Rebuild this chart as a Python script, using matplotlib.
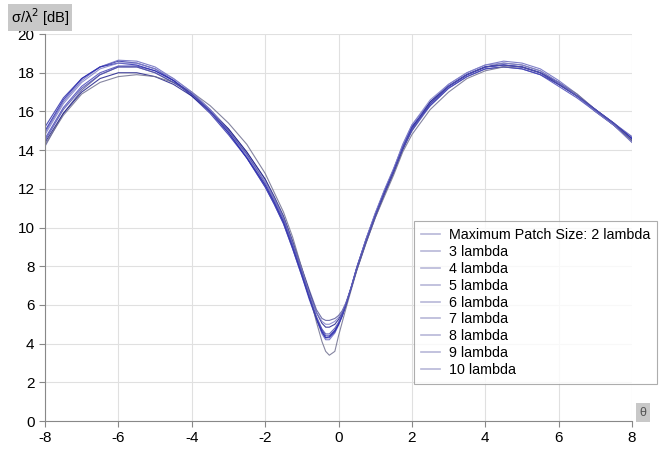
import numpy as np
import matplotlib
matplotlib.use("Agg")
import matplotlib.pyplot as plt

plt.rcParams['font.family'] = ['Liberation Sans', 'DejaVu Sans']
plt.rcParams['axes.unicode_minus'] = False

# theta grid (deg) shared by all curves, finer around the dip
theta = [-8, -7.5, -7, -6.5, -6, -5.5, -5, -4.5, -4, -3.5, -3, -2.5,
         -2, -1.75, -1.5, -1.25, -1, -0.8, -0.6, -0.45, -0.35, -0.25, -0.1,
         0, 0.1, 0.2, 0.35, 0.5, 0.75, 1, 1.25, 1.5, 1.75, 2,
         2.5, 3, 3.5, 4, 4.5, 5, 5.5, 6, 6.5, 7, 7.5, 8]

labels = ["Maximum Patch Size: 2 lambda", "3 lambda", "4 lambda", "5 lambda",
          "6 lambda", "7 lambda", "8 lambda", "9 lambda", "10 lambda"]

rcs_2 = [14.2, 15.9, 17.1, 17.9, 18.3, 18.3, 18.0, 17.5, 16.9, 16.1, 15.1, 13.9,
         12.5, 11.6, 10.6, 9.3, 7.9, 6.8, 5.75, 5.3, 5.2, 5.2, 5.3,
         5.45, 5.7, 6.1, 6.9, 7.8, 9.2, 10.5, 11.7, 12.8, 14.0, 15.0,
         16.4, 17.3, 17.9, 18.3, 18.5, 18.4, 18.1, 17.5, 16.8, 16.1, 15.3, 14.4]
rcs_3 = [15.2, 16.7, 17.7, 18.3, 18.6, 18.5, 18.2, 17.6, 16.8, 15.9, 14.8, 13.6,
         12.1, 11.2, 10.2, 8.9, 7.5, 6.4, 5.3, 4.7, 4.4, 4.4, 4.7,
         5.0, 5.45, 6.0, 6.95, 7.95, 9.4, 10.7, 11.9, 13.0, 14.2, 15.2,
         16.3, 17.2, 17.8, 18.2, 18.3, 18.2, 17.9, 17.4, 16.8, 16.1, 15.4, 14.6]
rcs_4 = [14.9, 16.5, 17.6, 18.3, 18.65, 18.6, 18.3, 17.7, 17.0, 16.1, 15.0, 13.7,
         12.2, 11.3, 10.3, 9.0, 7.6, 6.4, 5.25, 4.5, 4.2, 4.2, 4.55,
         4.95, 5.4, 5.95, 6.9, 7.9, 9.4, 10.7, 11.9, 13.0, 14.3, 15.3,
         16.5, 17.4, 18.0, 18.4, 18.6, 18.5, 18.2, 17.6, 16.9, 16.1, 15.3, 14.5]
rcs_5 = [14.4, 15.9, 17.0, 17.7, 18.0, 18.0, 17.8, 17.4, 16.8, 16.0, 15.1, 13.9,
         12.5, 11.55, 10.55, 9.25, 7.85, 6.7, 5.6, 5.05, 4.85, 4.85, 5.0,
         5.25, 5.6, 6.05, 6.9, 7.85, 9.25, 10.55, 11.75, 12.85, 14.05, 15.1,
         16.5, 17.3, 17.9, 18.3, 18.4, 18.3, 18.0, 17.4, 16.8, 16.0, 15.3, 14.5]
rcs_6 = [14.6, 16.2, 17.3, 18.0, 18.35, 18.35, 18.1, 17.6, 16.9, 16.0, 14.9, 13.6,
         12.1, 11.2, 10.2, 8.9, 7.5, 6.3, 5.25, 4.6, 4.3, 4.3, 4.6,
         5.0, 5.45, 5.95, 6.9, 7.9, 9.3, 10.6, 11.8, 12.9, 14.1, 15.0,
         16.3, 17.2, 17.8, 18.2, 18.3, 18.2, 17.9, 17.3, 16.7, 16.0, 15.3, 14.6]
rcs_7 = [14.3, 15.8, 16.9, 17.5, 17.8, 17.9, 17.8, 17.5, 17.0, 16.3, 15.4, 14.3,
         12.8, 11.8, 10.8, 9.5, 7.9, 6.6, 5.1, 4.1, 3.6, 3.4, 3.6,
         4.4, 5.1, 5.8, 6.8, 7.8, 9.2, 10.5, 11.6, 12.7, 13.9, 14.8,
         16.1, 17.0, 17.7, 18.1, 18.3, 18.3, 18.0, 17.5, 16.9, 16.1, 15.4, 14.5]
rcs_8 = [15.0, 16.6, 17.7, 18.3, 18.5, 18.4, 18.1, 17.6, 16.9, 16.0, 14.9, 13.6,
         12.2, 11.3, 10.3, 9.0, 7.6, 6.4, 5.3, 4.6, 4.3, 4.35, 4.65,
         5.0, 5.45, 6.0, 6.95, 7.95, 9.35, 10.65, 11.85, 12.95, 14.15, 15.2,
         16.4, 17.3, 17.9, 18.3, 18.4, 18.3, 18.0, 17.5, 16.8, 16.1, 15.4, 14.6]
rcs_9 = [14.8, 16.4, 17.5, 18.2, 18.5, 18.5, 18.2, 17.7, 17.0, 16.1, 15.0, 13.8,
         12.4, 11.5, 10.5, 9.2, 7.8, 6.6, 5.6, 5.15, 5.0, 5.0, 5.15,
         5.35, 5.65, 6.1, 6.95, 7.95, 9.4, 10.75, 11.95, 13.05, 14.25, 15.3,
         16.6, 17.4, 18.0, 18.4, 18.5, 18.4, 18.1, 17.5, 16.8, 16.0, 15.3, 14.4]
rcs_10 = [14.5, 16.1, 17.2, 17.9, 18.3, 18.3, 18.0, 17.5, 16.9, 16.0, 15.0, 13.8,
          12.3, 11.4, 10.4, 9.1, 7.7, 6.5, 5.4, 4.75, 4.5, 4.5, 4.8,
          5.1, 5.5, 6.0, 6.9, 7.9, 9.3, 10.6, 11.8, 12.9, 14.1, 15.1,
          16.4, 17.3, 17.9, 18.3, 18.4, 18.3, 18.0, 17.4, 16.8, 16.1, 15.4, 14.7]

series = [rcs_2, rcs_3, rcs_4, rcs_5, rcs_6, rcs_7, rcs_8, rcs_9, rcs_10]
colors = ["#5a5a9a", "#3030a8", "#6a6ac0", "#20208a", "#4848b8",
          "#707090", "#2a2ab0", "#8080c8", "#5050b0"]

fig = plt.figure(figsize=(6.69, 4.51), dpi=100)
ax = fig.add_axes([0.0673, 0.0665, 0.8774, 0.858])

for y, c in zip(series, colors):
    ax.plot(theta, y, color=c, lw=0.8, alpha=0.85)

ax.set_xlim(-8, 8)
ax.set_ylim(0, 20)
ax.set_xticks(range(-8, 9, 2))
ax.set_yticks(range(0, 21, 2))
ax.grid(True, color="#e0e0e0", lw=0.8)
ax.set_axisbelow(True)
for s in ("top", "right"):
    ax.spines[s].set_visible(False)
for s in ("left", "bottom"):
    ax.spines[s].set_color("#888888")
ax.tick_params(colors="#888888", labelcolor="black", labelsize=11, length=4)

# legend handles in light lavender like the original
handles = [plt.Line2D([], [], color="#b8b8d8", lw=1.2) for _ in labels]
leg = ax.legend(handles, labels, loc="upper left", bbox_to_anchor=(0.629, 0.517),
                fontsize=10.3, frameon=True, fancybox=False, handlelength=1.3,
                handletextpad=0.6, labelspacing=0.2, borderpad=0.5,
                borderaxespad=0)
leg.get_frame().set_edgecolor("#999999")
leg.get_frame().set_linewidth(0.8)
leg.set_clip_on(False)

fig.text(0.016, 0.962, "σ/λ$^2$ [dB]", fontsize=10.5, va="center", ha="left",
         bbox=dict(facecolor="#c8c8c8", edgecolor="none", pad=2))
fig.text(0.956, 0.085, "θ", fontsize=9, va="center", ha="left", color="#555555",
         bbox=dict(facecolor="#c8c8c8", edgecolor="none", pad=2.5))

fig.savefig("out.png", dpi=100)
